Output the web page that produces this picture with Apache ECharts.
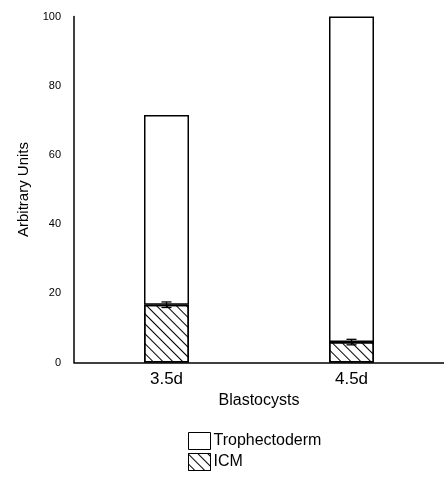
<!DOCTYPE html>
<html>
<head>
<meta charset="utf-8">
<script src="https://cdn.jsdelivr.net/npm/echarts@6/dist/echarts.min.js"></script>
<style>
    html, body { margin: 0; padding: 0; background: #fff; }
    #chart { width: 444px; height: 477px; }
</style>
</head>
<body>
<div id="chart"></div>
<script>
    var categories = ['3.5d', '4.5d'];
    var icmValues = [16.7, 5.9];
    var icmErrors = [0.8, 0.8];
    var totalValues = [71.5, 100];
    var yTicks = [0, 20, 40, 60, 80, 100];

    var trophValues = totalValues.map(function (t, i) {
        return +(t - icmValues[i]).toFixed(2);
    });

    var font = 'Liberation Sans, Arial, sans-serif';
    var chart = echarts.init(document.getElementById('chart'));

    var option = {
        animation: false,
        backgroundColor: '#fff',
        textStyle: { fontFamily: font, color: '#000' },
        grid: { left: 74, right: 0, top: 16.5, bottom: 114.5 },
        legend: {
            orient: 'vertical',
            left: 188,
            top: 432,
            padding: 0,
            itemWidth: 22,
            itemHeight: 17,
            itemGap: 3,
            icon: 'rect',
            itemStyle: { borderWidth: 1 },
            textStyle: { fontSize: 16, color: '#000', fontFamily: font, padding: [0, 0, 0, -2] },
            data: ['Trophectoderm', 'ICM']
        },
        xAxis: {
            type: 'category',
            data: categories,
            name: 'Blastocysts',
            nameLocation: 'middle',
            nameGap: 30,
            nameTextStyle: { fontSize: 16, color: '#000' },
            axisLine: { lineStyle: { color: '#000', width: 1.5 } },
            axisTick: { show: true, inside: true, alignWithLabel: true, length: 7, lineStyle: { color: '#000' } },
            axisLabel: { fontSize: 17, color: '#000', margin: 8 }
        },
        yAxis: {
            type: 'value',
            min: yTicks[0],
            max: yTicks[yTicks.length - 1],
            interval: 20,
            name: 'Arbitrary Units',
            nameLocation: 'middle',
            nameGap: 39,
            nameTextStyle: { fontSize: 15, color: '#000' },
            axisLine: { show: true, lineStyle: { color: '#000', width: 1.5 } },
            axisTick: { show: false },
            splitLine: { show: false },
            axisLabel: { fontSize: 11, color: '#000', margin: 13 }
        },
        series: [
            {
                name: 'ICM',
                type: 'bar',
                stack: 'total',
                barWidth: 45,
                data: icmValues,
                itemStyle: {
                    color: '#fff',
                    borderColor: '#000',
                    borderWidth: 1.5,
                    decal: {
                        symbol: 'rect',
                        symbolSize: 1,
                        color: '#000',
                        dashArrayX: [[1, 0]],
                        dashArrayY: [1, 6],
                        rotation: Math.PI / 4
                    }
                }
            },
            {
                name: 'Trophectoderm',
                type: 'bar',
                stack: 'total',
                barWidth: 45,
                data: trophValues,
                itemStyle: { color: '#fff', borderColor: '#000', borderWidth: 1.5 }
            },
            {
                name: 'err',
                type: 'custom',
                z: 10,
                data: icmValues.map(function (v, i) { return [i, v - icmErrors[i], v + icmErrors[i]]; }),
                renderItem: function (params, api) {
                    var lo = api.coord([api.value(0), api.value(1)]);
                    var hi = api.coord([api.value(0), api.value(2)]);
                    var hw = 5;
                    var st = { stroke: '#000', lineWidth: 1.3 };
                    return {
                        type: 'group',
                        children: [
                            { type: 'line', shape: { x1: lo[0], y1: lo[1], x2: hi[0], y2: hi[1] }, style: st },
                            { type: 'line', shape: { x1: lo[0] - hw, y1: lo[1], x2: lo[0] + hw, y2: lo[1] }, style: st },
                            { type: 'line', shape: { x1: hi[0] - hw, y1: hi[1], x2: hi[0] + hw, y2: hi[1] }, style: st }
                        ]
                    };
                }
            }
        ]
    };

    chart.setOption(option);
</script>
</body>
</html>
